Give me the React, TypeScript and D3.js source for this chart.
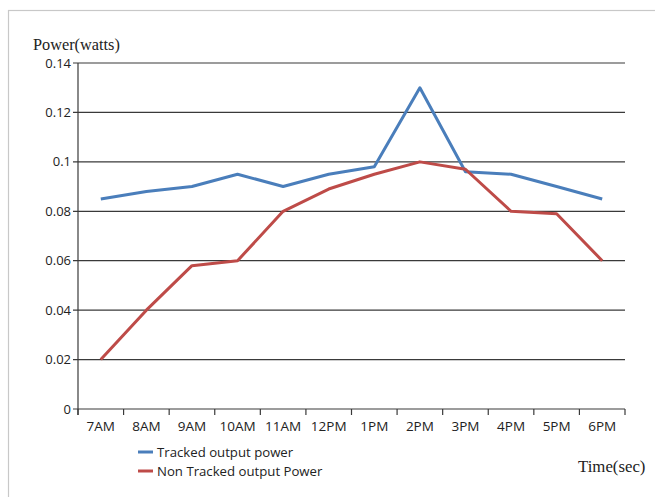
import React from "react";
import * as d3 from "d3";

const categories = ["7AM", "8AM", "9AM", "10AM", "11AM", "12PM", "1PM", "2PM", "3PM", "4PM", "5PM", "6PM"];
const tracked = [0.085, 0.088, 0.09, 0.095, 0.09, 0.095, 0.098, 0.13, 0.096, 0.095, 0.09, 0.085];
const nonTracked = [0.02, 0.04, 0.058, 0.06, 0.08, 0.089, 0.095, 0.1, 0.097, 0.08, 0.079, 0.06];
const yTicks = [0, 0.02, 0.04, 0.06, 0.08, 0.1, 0.12, 0.14];
const seriesNames = ["Tracked output power", "Non Tracked output Power"];
const colors = ["#4a7ebb", "#be4b48"];

export default function App() {
  const W = 655, H = 497;
  const left = 78, right = 625, top = 63, bottom = 409;
  const x = d3.scaleBand<string>().domain(categories).range([left, right]);
  const y = d3.scaleLinear().domain([0, 0.14]).range([bottom, top]);
  const line = d3
    .line<number>()
    .x((_, i) => (x(categories[i]) as number) + x.bandwidth() / 2)
    .y((d) => y(d));
  const sans = "'Open Sans', 'Liberation Sans', sans-serif";
  const serif = "'Liberation Serif', 'Times New Roman', serif";
  const tickFmt = (v: number) => (v === 0 ? "0" : String(+v.toFixed(2)));
  const xTickPos = categories.map((c) => x(c) as number).concat([right]);
  return (
    <svg width={W} height={H} style={{ position: "absolute", left: 0, top: 0 }}>
      <rect x={0} y={0} width={W} height={H} fill="#fff" />
      <rect x={8.5} y={10.5} width={W} height={H} fill="none" stroke="#c8c8c8" strokeWidth={1.2} />
      {yTicks.map((t) => (
        <g key={t}>
          <line x1={left - 5} x2={right} y1={y(t)} y2={y(t)} stroke="#3a3a3a" strokeWidth={1.2} />
          <text x={71} y={y(t) + 4.5} textAnchor="end" fontFamily={sans} fontSize={13} fill="#222">
            {tickFmt(t)}
          </text>
        </g>
      ))}
      <line x1={left} x2={left} y1={top} y2={bottom + 6} stroke="#3a3a3a" strokeWidth={1.2} />
      {xTickPos.map((p, i) => (
        <line key={i} x1={p} x2={p} y1={bottom} y2={bottom + 6} stroke="#3a3a3a" strokeWidth={1.2} />
      ))}
      {categories.map((c) => (
        <text
          key={c}
          x={(x(c) as number) + x.bandwidth() / 2}
          y={431}
          textAnchor="middle"
          fontFamily={sans}
          fontSize={13.5}
          fill="#222"
        >
          {c}
        </text>
      ))}
      {[tracked, nonTracked].map((s, i) => (
        <path key={i} d={line(s) || ""} fill="none" stroke={colors[i]} strokeWidth={3} strokeLinejoin="round" />
      ))}
      {seriesNames.map((n, i) => (
        <g key={n}>
          <line x1={138} x2={153} y1={452 + i * 19} y2={452 + i * 19} stroke={colors[i]} strokeWidth={3} />
          <text x={157} y={457 + i * 19} fontFamily={sans} fontSize={13.2} fill="#222">
            {n}
          </text>
        </g>
      ))}
      <text x={33} y={50} fontFamily={serif} fontSize={16.3} fill="#222">
        Power(watts)
      </text>
      <text x={578} y={472} fontFamily={serif} fontSize={16.8} fill="#222">
        Time(sec)
      </text>
    </svg>
  );
}
